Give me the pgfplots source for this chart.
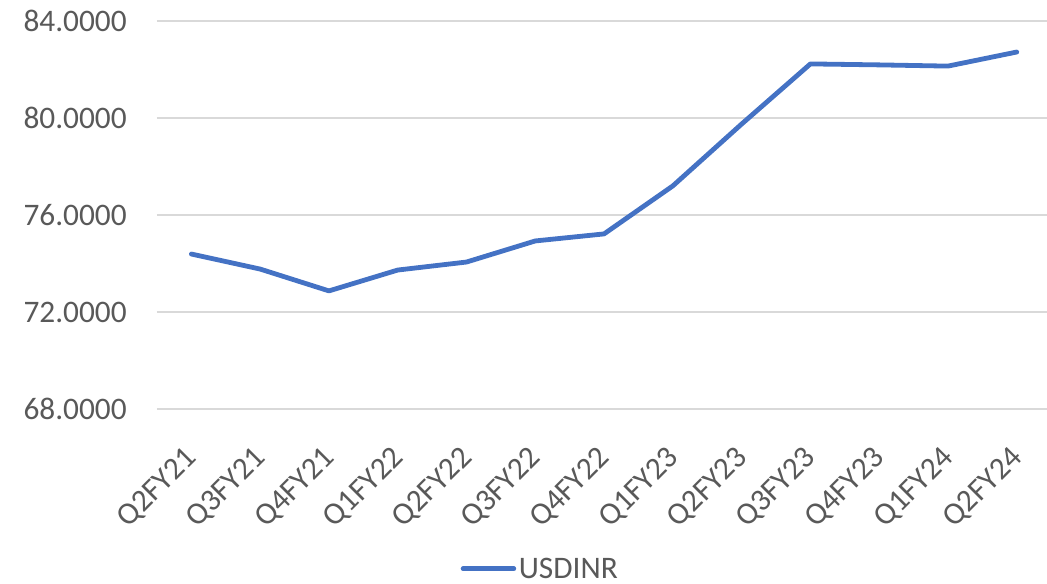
\documentclass[border=0pt]{standalone}
\usepackage{fontspec}
\setmainfont{Carlito}
\usepackage{pgfplots}
\pgfplotsset{compat=1.18}
\definecolor{exblue}{HTML}{4472C4}
\definecolor{gridgray}{HTML}{D9D9D9}
\definecolor{txtgray}{HTML}{595959}
\begin{document}
\begin{tikzpicture}
\useasboundingbox (-117.75pt,-131.25pt) rectangle (667.5pt,306.75pt);
\begin{axis}[
  at={(0,0)}, anchor=south west,
  scale only axis,
  width=667.5pt, height=291pt,
  xmin=-0.5, xmax=12.44,
  ymin=68, ymax=84,
  axis line style={draw=none},
  major tick length=0pt,
  ytick={68,72,76,80,84},
  yticklabels={68.0000,72.0000,76.0000,80.0000,84.0000},
  xtick={0,...,12},
  xticklabels={Q2FY21,Q3FY21,Q4FY21,Q1FY22,Q2FY22,Q3FY22,Q4FY22,Q1FY23,Q2FY23,Q3FY23,Q4FY23,Q1FY24,Q2FY24},
  ymajorgrids,
  grid style={draw=gridgray, line width=0.9pt},
  ticklabel style={font=\fontsize{23.5}{26}\selectfont, text=txtgray},
  yticklabel style={anchor=east, inner sep=0pt, xshift=-22.5pt},
  xticklabel style={rotate=45, anchor=north east, inner sep=0pt, yshift=-14.8pt, xshift=-22.8pt},
  clip=false,
  legend style={draw=none, at={(0.431,-0.412)}, anchor=center, font=\fontsize{23.5}{26}\selectfont, text=txtgray, inner sep=0pt},
  legend image code/.code={\draw[line width=3.6pt, line cap=round, exblue] (0pt,0pt) -- (38pt,0pt);},
]
\addplot[exblue, line width=3.6pt, line cap=round, line join=round] coordinates {
(0,74.39) (1,73.77) (2,72.87) (3,73.73) (4,74.06) (5,74.93) (6,75.22)
(7,77.20) (8,79.75) (9,82.23) (10,82.19) (11,82.14) (12,82.72)
};
\addlegendentry{USDINR}
\end{axis}
\end{tikzpicture}
\end{document}
